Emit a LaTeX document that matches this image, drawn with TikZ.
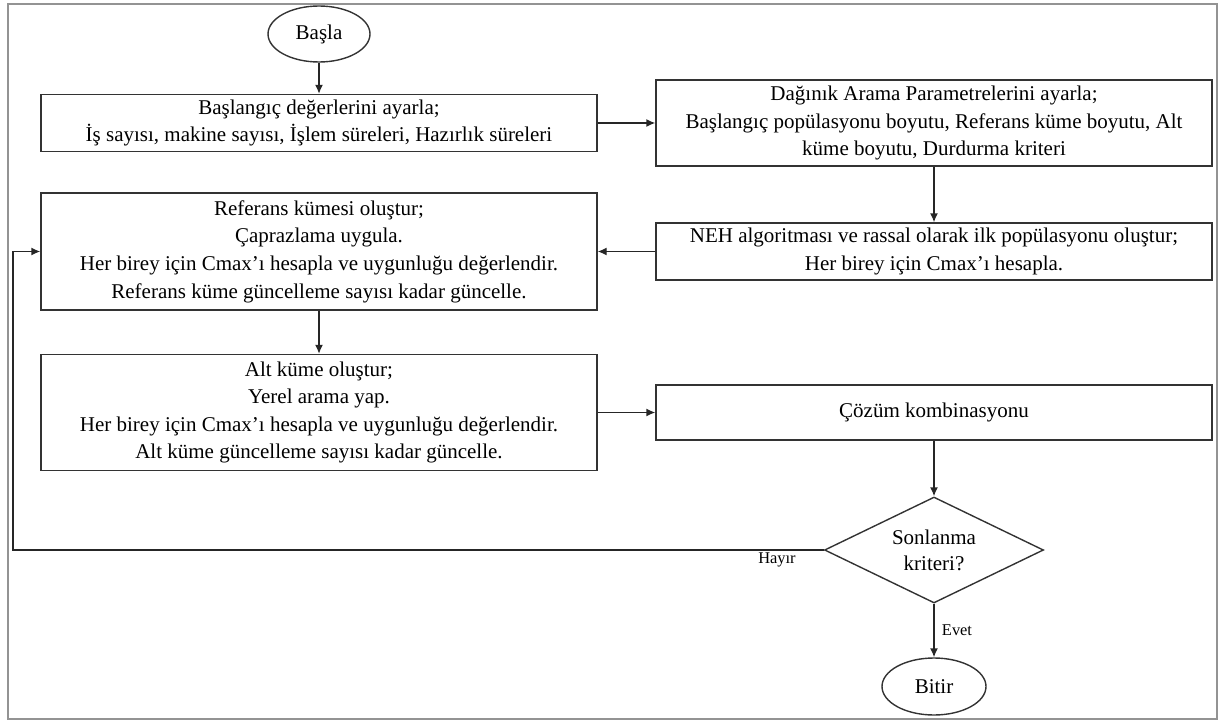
\documentclass[tikz,border=0pt]{standalone}
\usepackage{fontspec}
\setmainfont{Liberation Serif}
\usepackage{tikz}
\usepackage{xcolor}
\usetikzlibrary{shapes.geometric,arrows.meta}

\tikzset{
	kutu/.style={rectangle, draw=black!80, line width=0.7pt, minimum width=278pt, inner sep=0pt, align=center, font=\fontsize{10.5}{13.8}\selectfont},
	uc/.style={ellipse, draw=black!80, line width=0.7pt, minimum width=51pt, minimum height=28pt, inner sep=0pt, font=\fontsize{10.5}{13.8}\selectfont},
	karar/.style={diamond, aspect=2.07, draw=black!80, line width=0.7pt, minimum width=109.5pt, minimum height=53pt, inner sep=0pt, align=center, font=\fontsize{10.5}{13}\selectfont},
	ok/.style={-{Latex[length=4.5pt,width=4pt]}, draw=black!85, line width=0.7pt},
	etiket/.style={inner sep=0pt, font=\fontsize{8.2}{10}\selectfont}
}

\begin{document}
\begin{tikzpicture}[x=0.5pt, y=-0.5pt]
			\useasboundingbox (0,0) rectangle (1220,722);
			\draw[gray!85, line width=1.4pt] (8,4) rectangle (1217,719);
			\node[uc] (basla) at (319,34) {Başla};
			\node[kutu, minimum height=28.5pt] (baslangic) at (319,123) {Başlangıç değerlerini ayarla;\\ İş sayısı, makine sayısı, İşlem süreleri, Hazırlık süreleri};
			\node[kutu, minimum height=43pt] (parametre) at (934,123) {Dağınık Arama Parametrelerini ayarla;\\ Başlangıç popülasyonu boyutu, Referans küme boyutu, Alt\\ küme boyutu, Durdurma kriteri};
			\node[kutu, minimum height=28.5pt] (neh) at (934,251.5) {NEH algoritması ve rassal olarak ilk popülasyonu oluştur;\\ Her birey için Cmax’ı hesapla.};
			\node[kutu, minimum height=58.5pt] (referans) at (319,251.5) {Referans kümesi oluştur;\\ Çaprazlama uygula.\\ Her birey için Cmax’ı hesapla ve uygunluğu değerlendir.\\ Referans küme güncelleme sayısı kadar güncelle.};
			\node[kutu, minimum height=58pt] (altkume) at (319,412.5) {Alt küme oluştur;\\ Yerel arama yap.\\ Her birey için Cmax’ı hesapla ve uygunluğu değerlendir.\\ Alt küme güncelleme sayısı kadar güncelle.};
			\node[kutu, minimum height=27.5pt] (cozum) at (934,412.5) {Çözüm kombinasyonu};
			\node[karar] (sonlanma) at (934,550) {Sonlanma\\ kriteri?};
			\node[uc, minimum width=52pt, minimum height=28.5pt] (bitir) at (934,686.5) {Bitir};
			\coordinate (geri) at (13,550);
			\draw[ok] (basla) -- (baslangic);
			\draw[ok] (baslangic) -- (parametre);
			\draw[ok] (parametre) -- (neh);
			\draw[ok] (neh) -- (referans);
			\draw[ok] (referans) -- (altkume);
			\draw[ok] (altkume) -- (cozum);
			\draw[ok] (cozum) -- (sonlanma);
			\draw[ok] (sonlanma) -- (bitir);
			\draw[ok] (sonlanma.west) -- (geri) |- (referans.west);
			\node[etiket] (hayir) at (777,560) {Hayır};
			\node[etiket] (evet) at (957,630) {Evet};
		\end{tikzpicture}
\end{document}
